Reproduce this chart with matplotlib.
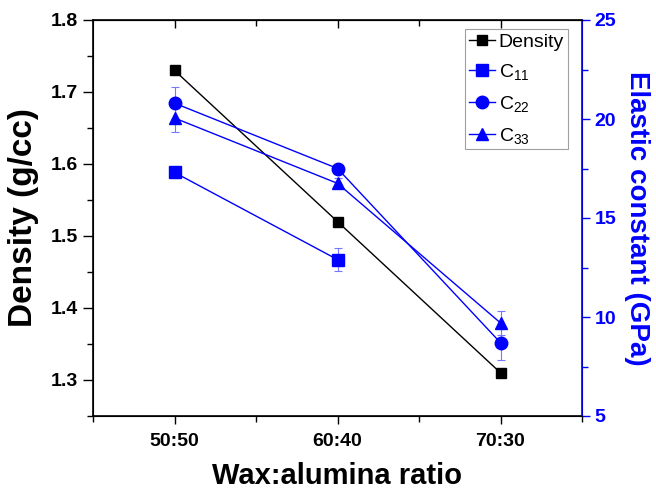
import matplotlib
matplotlib.use("Agg")
import matplotlib.pyplot as plt
from matplotlib.ticker import MultipleLocator, FixedLocator

plt.rcParams['font.family'] = ['Liberation Sans', 'DejaVu Sans']
plt.rcParams['mathtext.fontset'] = 'custom'
plt.rcParams['mathtext.rm'] = 'Liberation Sans'
plt.rcParams['mathtext.it'] = 'Liberation Sans'

categories = ["50:50", "60:40", "70:30"]
density = [1.73, 1.52, 1.31]
c11 = [17.3, 12.9]
c11_err = [0.3, 0.6]
c22 = [20.8, 17.5, 8.7]
c22_err = [0.8, 0.2, 0.85]
c33 = [20.05, 16.75, 9.7]
c33_err = [0.7, 0.25, 0.6]

x = [1, 2, 3]
blue = '#0000ff'
ebar = '#7777ff'

fig = plt.figure(figsize=(6.56, 4.92), dpi=100)
ax = fig.add_axes([93/656, 1-416/492, (582-93)/656, (416-20)/492])
ax2 = ax.twinx()

h0, = ax.plot(x, density, color='black', marker='s', markersize=7.5, lw=1, label='Density')

e1 = ax2.errorbar(x[:2], c11, yerr=c11_err, color=blue, marker='s', markersize=8, lw=1,
                  ecolor=ebar, elinewidth=0.8, capsize=3, capthick=0.8, label='C$_{11}$')
e2 = ax2.errorbar(x, c22, yerr=c22_err, color=blue, marker='o', markersize=9, lw=1,
                  ecolor=ebar, elinewidth=0.8, capsize=3, capthick=0.8, label='C$_{22}$')
e3 = ax2.errorbar(x, c33, yerr=c33_err, color=blue, marker='^', markersize=9, lw=1,
                  ecolor=ebar, elinewidth=0.8, capsize=3, capthick=0.8, label='C$_{33}$')

ax.set_xlim(0.5, 3.5)
ax.set_ylim(1.25, 1.8)
ax2.set_ylim(5, 25)

ax.set_xticks(x)
ax.set_xticklabels(categories)
ax.xaxis.set_minor_locator(FixedLocator([0.5, 1.5, 2.5, 3.5]))
ax.yaxis.set_major_locator(MultipleLocator(0.1))
ax.yaxis.set_minor_locator(MultipleLocator(0.05))
ax2.yaxis.set_major_locator(MultipleLocator(5))
ax2.yaxis.set_minor_locator(MultipleLocator(2.5))

ax.tick_params(axis='x', which='major', direction='out', length=6, width=1,
               labelsize=14, pad=6)
ax.tick_params(axis='y', which='major', direction='out', length=7, width=1,
               labelsize=14, pad=4)
ax.tick_params(axis='both', which='minor', direction='out', length=4, width=1)
for lab in ax.get_xticklabels() + ax.get_yticklabels():
    lab.set_fontweight('bold')

ax2.tick_params(axis='y', which='major', direction='out', length=6, width=1,
                colors=blue, labelsize=14, pad=3)
ax2.tick_params(axis='y', which='minor', direction='out', length=4, width=1, colors=blue)
for lab in ax2.get_yticklabels():
    lab.set_fontweight('bold')
ax2.spines['right'].set_color(blue)
ax2.spines['right'].set_linewidth(1.2)

# top axis with inward ticks
sec = ax.secondary_xaxis('top')
sec.set_xticks(x)
sec.set_xticklabels([])
sec.xaxis.set_minor_locator(FixedLocator([1.5, 2.5]))
sec.tick_params(which='major', direction='in', length=6, width=1)
sec.tick_params(which='minor', direction='in', length=4, width=1)

for s in ['left', 'bottom', 'top']:
    ax.spines[s].set_linewidth(1.2)

ax.set_xlabel('Wax:alumina ratio', fontsize=21, fontweight='bold', labelpad=9)
ax.set_ylabel('Density (g/cc)', fontsize=24, fontweight='bold', labelpad=8)
ax2.set_ylabel('Elastic constant (GPa)', fontsize=20, fontweight='bold', color=blue,
               rotation=270, labelpad=24)

handles = [h0, e1[0], e2[0], e3[0]]
labels = ['Density', 'C$_{11}$', 'C$_{22}$', 'C$_{33}$']
leg = ax2.legend(handles, labels, loc='upper right', bbox_to_anchor=(0.971, 0.977),
                 borderaxespad=0, fontsize=14, frameon=True, fancybox=False,
                 edgecolor='#888888', handlelength=1.35, handletextpad=0.2,
                 borderpad=0.2, labelspacing=0.6)
leg.get_frame().set_linewidth(0.8)

fig.savefig('out.png', dpi=100)
